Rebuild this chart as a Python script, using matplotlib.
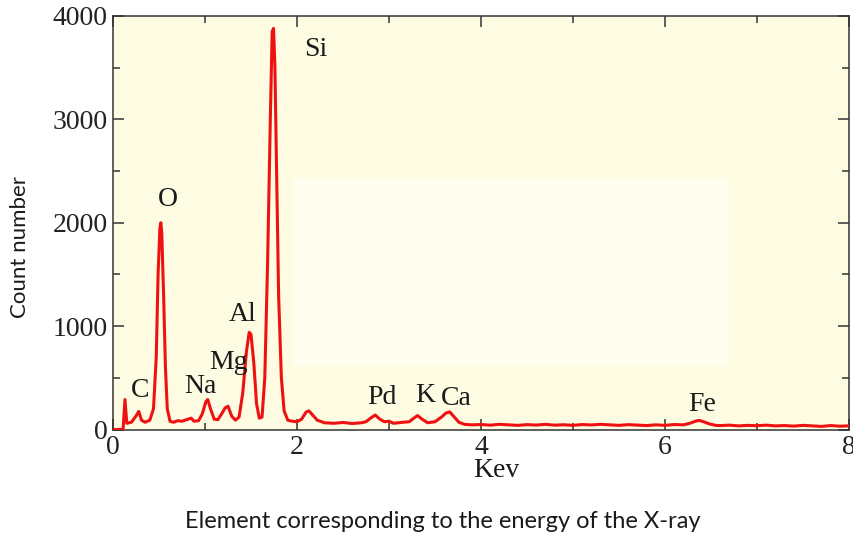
import matplotlib
matplotlib.use("Agg")
import matplotlib.pyplot as plt
from matplotlib.ticker import MultipleLocator
from matplotlib.patches import Rectangle

# ---- data ----
energy_kev = [
    0.00, 0.08, 0.11, 0.13, 0.15, 0.20, 0.25, 0.28, 0.31, 0.35, 0.40,
    0.44, 0.47, 0.49, 0.51, 0.52, 0.53, 0.55, 0.57, 0.59, 0.62, 0.66,
    0.70, 0.75, 0.80, 0.85, 0.88, 0.93, 0.97, 1.01, 1.03, 1.06, 1.10,
    1.14, 1.18, 1.22, 1.25, 1.29, 1.33, 1.37, 1.41, 1.45, 1.48, 1.50,
    1.53, 1.56, 1.59, 1.62, 1.65, 1.68, 1.71, 1.73, 1.745, 1.76, 1.78,
    1.80, 1.83, 1.86, 1.90, 1.95, 2.00, 2.05, 2.10, 2.13, 2.17, 2.22,
    2.30, 2.40, 2.50, 2.60, 2.70, 2.75, 2.80, 2.85, 2.90, 2.95, 3.00,
    3.05, 3.15, 3.22, 3.27, 3.31, 3.36, 3.42, 3.50, 3.57, 3.62, 3.66,
    3.71, 3.76, 3.82, 3.90, 4.00, 4.10, 4.20, 4.30, 4.40, 4.50, 4.60,
    4.70, 4.80, 4.90, 5.00, 5.10, 5.20, 5.30, 5.40, 5.50, 5.60, 5.70,
    5.80, 5.90, 6.00, 6.10, 6.20, 6.27, 6.33, 6.37, 6.42, 6.48, 6.55,
    6.60, 6.70, 6.80, 6.90, 7.00, 7.10, 7.20, 7.30, 7.40, 7.50, 7.60,
    7.70, 7.80, 7.90, 8.00,
]
counts = [
    0, 0, 5, 290, 60, 70, 130, 175, 90, 70, 90,
    200, 700, 1500, 1950, 2000, 1900, 1300, 600, 200, 80, 70,
    85, 80, 95, 110, 80, 85, 150, 270, 290, 200, 100,
    95, 150, 210, 225, 130, 90, 120, 350, 750, 940, 920,
    650, 250, 110, 120, 500, 1600, 3000, 3850, 3880, 3500, 2400,
    1300, 500, 180, 90, 80, 75, 100, 170, 180, 140, 90,
    65, 60, 68, 58, 65, 75, 110, 140, 100, 75, 80,
    60, 70, 75, 110, 135, 100, 65, 75, 120, 160, 170,
    120, 70, 50, 45, 48, 42, 50, 45, 40, 47, 43,
    50, 42, 46, 40, 48, 44, 50, 45, 40, 47, 42,
    38, 45, 40, 48, 45, 60, 80, 88, 75, 55, 40,
    38, 42, 35, 40, 37, 42, 35, 38, 33, 40, 35,
    30, 38, 32, 35,
]

element_names = ["C", "O", "Na", "Mg", "Al", "Si", "Pd", "K", "Ca", "Fe"]
label_x = [0.29, 0.60, 0.95, 1.26, 1.41, 2.20, 2.92, 3.39, 3.73, 6.40]
label_y = [314, 2161, 356, 585, 1052, 3612, 247, 269, 237, 179]

x_ticks = [0, 2, 4, 6, 8]
y_ticks = [0, 1000, 2000, 3000, 4000]

# ---- figure ----
W, H = 854, 537
fig = plt.figure(figsize=(W / 100, H / 100), dpi=100)
fig.patch.set_facecolor("white")
ax = fig.add_axes([113 / W, 1 - 429.5 / H, 736 / W, 413.5 / H])
ax.set_facecolor("#FDFBE1")
ax.add_patch(Rectangle((0.245, 0.155), 0.59, 0.45, transform=ax.transAxes,
                       facecolor="#FFFDEE", edgecolor="none", zorder=0))

ax.plot(energy_kev, counts, color="#EE1111", lw=2.2, zorder=3,
        solid_joinstyle="round")

ax.set_xlim(0, 8)
ax.set_ylim(0, 4000)
ax.set_xticks(x_ticks)
ax.set_yticks(y_ticks)
ax.xaxis.set_minor_locator(MultipleLocator(1))
ax.yaxis.set_minor_locator(MultipleLocator(500))
serif = ["Liberation Serif", "DejaVu Serif"]
ax.tick_params(which="both", direction="in", top=True, right=True,
               color="#333333", width=1.1)
ax.tick_params(which="major", length=8, pad=4)
ax.tick_params(which="minor", length=5)
for lab in ax.get_xticklabels() + ax.get_yticklabels():
    lab.set_fontfamily(serif)
    lab.set_fontsize(20)
    lab.set_color("#222222")
for sp in ax.spines.values():
    sp.set_color("#333333")
    sp.set_linewidth(1.1)

for name, lx, ly in zip(element_names, label_x, label_y):
    ax.text(lx, ly, name, ha="center", va="baseline", fontsize=20,
            family=serif, color="#1a1a1a", zorder=4)

fig.text(496.5 / W, 1 - 477 / H, "Kev", ha="center", va="baseline",
         fontsize=20, family=serif, color="#1a1a1a")
fig.text(20 / W, 1 - 247 / H, "Count number", rotation=90, ha="center",
         va="center", fontsize=16, family=["Lato", "DejaVu Sans"],
         color="#1a1a1a")
fig.text(443 / W, 1 - 522 / H,
         "Element corresponding to the energy of the X-ray",
         ha="center", va="center", fontsize=17,
         family=["Lato", "DejaVu Sans"], color="#1a1a1a")

fig.savefig("out.png", dpi=100)
